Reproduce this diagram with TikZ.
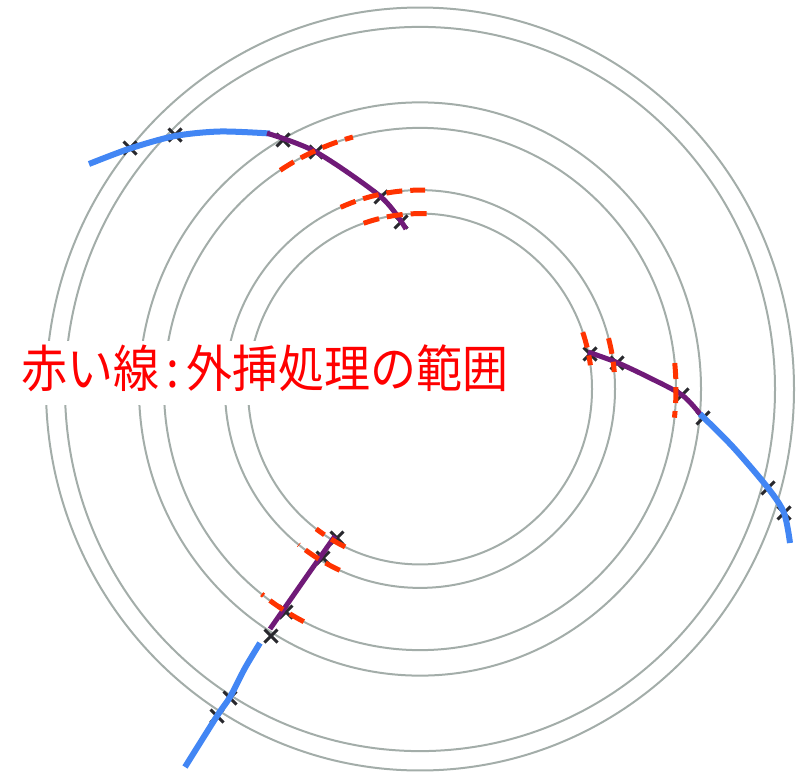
\documentclass[tikz,border=0pt]{standalone}
\usepackage{fontspec}
\usepackage{graphicx}
\newfontfamily\jpfont{Noto Sans CJK JP}
\definecolor{ringc}{RGB}{163,173,169}
\definecolor{bluec}{RGB}{66,134,244}
\definecolor{purplec}{RGB}{112,26,120}
\definecolor{redc}{RGB}{255,51,0}
\definecolor{markc}{RGB}{40,40,45}
\begin{document}
\begin{tikzpicture}[x=1pt,y=-1pt,
  ring/.style={draw=ringc, line width=2pt},
  bluecurve/.style={draw=bluec, line width=6pt},
  purplecurve/.style={draw=purplec, line width=5pt},
  reddash/.style={draw=redc, line width=5pt, dash pattern=on 16pt off 8pt},
  xmark/.style={draw=markc, line width=3pt},
  labeltext/.style={text=red, inner sep=0pt, font=\jpfont\fontsize{46}{46}\selectfont}
]
\useasboundingbox (0,0) rectangle (802,773);
\coordinate (O) at (420,389);
% concentric rings
\foreach \r in {374,355,281,256,195,172}
  \draw[ring] (O) ellipse [x radius=\r, y radius={1.02*\r}];
% label with white backing
\fill[white] (10,341) rectangle (530,405);
\node[labeltext] (label) at (265,368) {\scalebox{1}[1.1]{赤い線\hspace{7pt}:\hspace{7pt}外挿処理の範囲}};
% crossing marks
\foreach \x/\y in {130/148, 175/135, 283/140, 316/152, 381/197, 401/222,
                   590/354, 617/363, 682/395, 703/418, 768/488, 784/513,
                   337/538, 323/558, 286/612, 271/636, 230/698, 217/716}
  \draw[xmark] (\x-6.5,\y-6.5) -- (\x+6.5,\y+6.5) (\x-6.5,\y+6.5) -- (\x+6.5,\y-6.5);
% curve 1 (top left)
\draw[bluecurve] plot[smooth] coordinates {(89,164) (130,148.5) (175,136) (220,131.5) (270,133.5)};
\draw[purplecurve] plot[smooth] coordinates {(267,133.2) (316,152) (381,197) (406,229)};
% curve 2 (right)
\draw[purplecurve] plot[smooth] coordinates {(588,352) (617,362.5) (648,377) (682,395) (700,414)};
\draw[bluecurve] plot[smooth] coordinates {(700,414) (733,447) (768,488) (784,513) (790,543)};
% curve 3 (bottom left)
\draw[purplecurve] plot[smooth] coordinates {(335,536) (302,583) (270,629)};
\draw[bluecurve] plot[smooth] coordinates {(260,643) (245,668) (230,697) (217,716) (185,767)};
% red dashed extrapolation ranges
\draw[reddash] (O) ++(-123.1:256 and 261.1) arc[start angle=-123.1, end angle=-105.2, x radius=256, y radius=261.1];
\draw[reddash] (O) ++(-114.0:195 and 198.9) arc[start angle=-114.0, end angle=-88.5, x radius=195, y radius=198.9];
\draw[reddash] (O) ++(-109.1:172 and 175.4) arc[start angle=-109.1, end angle=-87.7, x radius=172, y radius=175.4];
\draw[reddash] (O) ++(-18.9:172 and 175.4) arc[start angle=-18.9, end angle=-7.8, x radius=172, y radius=175.4];
\draw[reddash] (O) ++(-14.8:195 and 198.9) arc[start angle=-14.8, end angle=-4.9, x radius=195, y radius=198.9];
\draw[reddash] (O) ++(-5.7:256 and 261.1) arc[start angle=-5.7, end angle=6.3, x radius=256, y radius=261.1];
\draw[reddash] (O) ++(115.8:172 and 175.4) arc[start angle=115.8, end angle=127.1, x radius=172, y radius=175.4];
\draw[reddash] (O) ++(114.3:195 and 198.9) arc[start angle=114.3, end angle=128.5, x radius=195, y radius=198.9];
\draw[reddash] (O) ++(117.0:256 and 261.1) arc[start angle=117.0, end angle=128.2, x radius=256, y radius=261.1];
\end{tikzpicture}
\end{document}
